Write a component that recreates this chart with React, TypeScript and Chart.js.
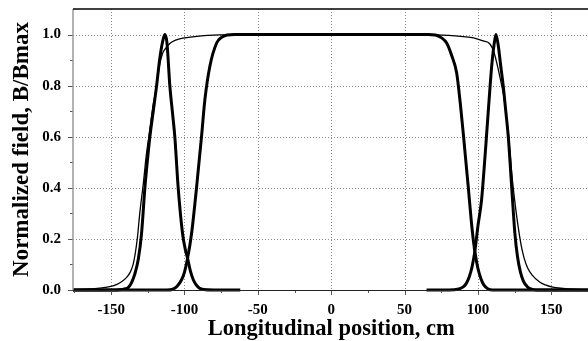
import React, { useEffect, useRef } from "react";
import { Chart, registerables } from "chart.js";

Chart.register(...registerables);

// ---- data ----
const xTicks = [-150, -100, -50, 0, 50, 100, 150];
const xMinorTicks = [-175, -125, -75, -25, 25, 75, 125, 175];
const yTicks = [0, 0.2, 0.4, 0.6, 0.8, 1.0];
const yMinorTicks = [0.1, 0.3, 0.5, 0.7, 0.9];

// thin curve (wide flat-top field)
const xThin = [-176, -165, -158, -151, -146, -142, -139, -137, -135, -133.5, -132, -130.5, -128, -126, -124.3, -121.5, -119, -117, -115, -113, -110, -106, -101, -96, -90, -84, -76, -65, 0, 65, 80, 90, 97, 103.5, 108.2, 111, 113.9, 115.5, 117.3, 119, 121, 123.2, 125.5, 127.5, 129.5, 131.5, 134, 137, 142.3, 146, 151, 158, 165, 176];
const yThin = [0.002, 0.004, 0.007, 0.013, 0.022, 0.036, 0.052, 0.07, 0.1, 0.145, 0.21, 0.3, 0.42, 0.53, 0.6, 0.72, 0.8, 0.88, 0.925, 0.945, 0.965, 0.978, 0.986, 0.99, 0.994, 0.997, 0.999, 1.0, 1.0, 1.0, 0.997, 0.992, 0.987, 0.975, 0.963, 0.93, 0.863, 0.82, 0.77, 0.7, 0.6, 0.45, 0.33, 0.245, 0.175, 0.125, 0.085, 0.058, 0.03, 0.02, 0.011, 0.006, 0.003, 0.001];

// thick central flat-top curve
const xCenter = [-176, -112, -108, -105, -102, -100, -97.9, -95.2, -91.8, -88.4, -86.1, -82.7, -78.1, -75, -71, -66, 0, 66, 71, 75, 78.7, 82, 85.5, 88, 90, 93.4, 95.5, 97, 98.5, 100, 102, 104, 107, 110, 176];
const yCenter = [0, 0, 0.003, 0.015, 0.04, 0.07, 0.124, 0.22, 0.4, 0.6, 0.745, 0.876, 0.967, 0.988, 0.998, 1.0, 1.0, 1.0, 0.998, 0.988, 0.967, 0.92, 0.85, 0.73, 0.614, 0.405, 0.27, 0.19, 0.13, 0.085, 0.045, 0.02, 0.004, 0, 0];

// thick narrow peaks (left and right ends)
const xPeakLeft = [-176, -150, -143, -140, -138, -136, -134, -131.5, -129.3, -127, -125.4, -123.6, -121.3, -119, -117, -115, -113.4, -112, -110, -108.3, -106.6, -104.3, -101.3, -99.5, -97.9, -96, -94, -92, -90, -87, -80, -62];
const yPeakLeft = [0, 0, 0.002, 0.005, 0.012, 0.03, 0.06, 0.12, 0.22, 0.4, 0.5, 0.6, 0.7, 0.8, 0.9, 0.97, 1.0, 0.97, 0.8, 0.7, 0.6, 0.4, 0.22, 0.16, 0.124, 0.075, 0.04, 0.02, 0.008, 0.002, 0, 0];
const xPeakRight = [65, 80, 87, 90, 92, 94, 96, 98, 100, 102.5, 104.3, 106, 107.7, 109.4, 111, 112.3, 113.8, 115.5, 117.3, 119, 120.7, 123, 125.2, 127, 129, 131, 133.5, 136, 140, 176];
const yPeakRight = [0, 0, 0.004, 0.012, 0.025, 0.05, 0.09, 0.155, 0.25, 0.353, 0.48, 0.614, 0.75, 0.876, 0.96, 1.0, 0.96, 0.88, 0.797, 0.7, 0.6, 0.405, 0.222, 0.13, 0.07, 0.035, 0.014, 0.004, 0, 0];

const X_MIN = -176;
const X_MAX = 176;
const Y_MIN = 0;
const Y_MAX = 1.1;

const FONT = "'Liberation Serif', 'Times New Roman', serif";

const toPts = (xs: number[], ys: number[]) => xs.map((x, i) => ({ x, y: ys[i] }));

const axesPlugin = {
  id: "customAxes",
  beforeDatasetsDraw(chart: any) {
    const { ctx, chartArea, scales } = chart;
    const { left, right, top, bottom } = chartArea;
    const xs = scales.x;
    const ys = scales.y;
    ctx.save();
    ctx.strokeStyle = "#8a8a8a";
    ctx.lineWidth = 1;
    ctx.setLineDash([1, 2]);
    for (const v of xTicks) {
      const px = Math.round(xs.getPixelForValue(v)) + 0.5;
      ctx.beginPath();
      ctx.moveTo(px, top);
      ctx.lineTo(px, bottom);
      ctx.stroke();
    }
    for (const v of yTicks) {
      if (v === 0) continue;
      const py = Math.round(ys.getPixelForValue(v)) + 0.5;
      ctx.beginPath();
      ctx.moveTo(left, py);
      ctx.lineTo(right, py);
      ctx.stroke();
    }
    ctx.restore();
  },
  afterDatasetsDraw(chart: any) {
    const { ctx, chartArea, scales } = chart;
    const { left, right, top, bottom } = chartArea;
    const xs = scales.x;
    const ys = scales.y;
    ctx.save();
    ctx.setLineDash([]);
    ctx.strokeStyle = "#555";
    ctx.lineWidth = 1;
    for (const v of xTicks) {
      const px = Math.round(xs.getPixelForValue(v)) + 0.5;
      ctx.beginPath();
      ctx.moveTo(px, bottom);
      ctx.lineTo(px, bottom + 5);
      ctx.stroke();
    }
    for (const v of xMinorTicks) {
      const px = Math.round(xs.getPixelForValue(v)) + 0.5;
      ctx.beginPath();
      ctx.moveTo(px, bottom);
      ctx.lineTo(px, bottom + 3);
      ctx.stroke();
    }
    for (const v of yTicks) {
      const py = Math.round(ys.getPixelForValue(v)) + 0.5;
      ctx.beginPath();
      ctx.moveTo(left - 5, py);
      ctx.lineTo(left, py);
      ctx.stroke();
    }
    for (const v of yMinorTicks) {
      const py = Math.round(ys.getPixelForValue(v)) + 0.5;
      ctx.beginPath();
      ctx.moveTo(left - 3, py);
      ctx.lineTo(left, py);
      ctx.stroke();
    }
    ctx.strokeStyle = "#999";
    ctx.lineWidth = 1.5;
    ctx.beginPath();
    ctx.moveTo(left, top);
    ctx.lineTo(left, bottom);
    ctx.stroke();
    ctx.strokeStyle = "#000";
    ctx.lineWidth = 1.5;
    ctx.beginPath();
    ctx.moveTo(left, top);
    ctx.lineTo(right, top);
    ctx.stroke();
    ctx.lineWidth = 1;
    ctx.strokeStyle = "#222";
    ctx.beginPath();
    ctx.moveTo(left, Math.round(bottom) + 0.5);
    ctx.lineTo(right, Math.round(bottom) + 0.5);
    ctx.stroke();
    ctx.restore();
  },
};

export default function App() {
  const ref = useRef<HTMLCanvasElement | null>(null);

  useEffect(() => {
    document.body.style.margin = "0";
    const canvas = ref.current;
    if (!canvas) return;
    const chart = new Chart(canvas, {
      type: "line",
      data: {
        datasets: [
          {
            label: "thin",
            data: toPts(xThin, yThin),
            borderColor: "#000",
            borderWidth: 1.3,
            pointRadius: 0,
            cubicInterpolationMode: "monotone",
            clip: 4,
          },
          {
            label: "center",
            data: toPts(xCenter, yCenter),
            borderColor: "#000",
            borderWidth: 3,
            pointRadius: 0,
            cubicInterpolationMode: "monotone",
            clip: 4,
          },
          {
            label: "peaks",
            data: [...toPts(xPeakLeft, yPeakLeft), { x: 0, y: null }, ...toPts(xPeakRight, yPeakRight)],
            borderColor: "#000",
            borderWidth: 3,
            pointRadius: 0,
            cubicInterpolationMode: "monotone",
            spanGaps: false,
            clip: 4,
          },
        ],
      } as any,
      options: {
        animation: false,
        responsive: false,
        maintainAspectRatio: false,
        layout: { padding: { left: 0, top: 9, right: 10.6, bottom: 0 } },
        plugins: { legend: { display: false }, tooltip: { enabled: false } },
        scales: {
          x: {
            type: "linear",
            min: X_MIN,
            max: X_MAX,
            grid: { display: false },
            border: { display: false },
            afterBuildTicks: (s: any) => {
              s.ticks = xTicks.map((v) => ({ value: v }));
            },
            afterFit: (s: any) => {
              s.height = 51;
              s.paddingLeft = 0;
              s.paddingRight = 0;
            },
            ticks: {
              color: "#000",
              padding: 3,
              maxRotation: 0,
              font: { family: FONT, size: 15, weight: "bold" },
              callback: (v: any) => String(v),
            },
            title: {
              display: true,
              text: "Longitudinal position, cm",
              color: "#000",
              font: { family: FONT, size: 22.5, weight: "bold", lineHeight: 1 },
              padding: { top: 0, bottom: 1 },
            },
          },
          y: {
            type: "linear",
            min: Y_MIN,
            max: Y_MAX,
            grid: { display: false },
            border: { display: false },
            afterBuildTicks: (s: any) => {
              s.ticks = yTicks.map((v) => ({ value: v }));
            },
            afterFit: (s: any) => {
              s.width = 73;
              s.paddingTop = 0;
              s.paddingBottom = 0;
            },
            ticks: {
              color: "#000",
              padding: 4,
              font: { family: FONT, size: 15, weight: "bold" },
              callback: (v: any) => Number(v).toFixed(1),
            },
            title: {
              display: true,
              text: "Normalized field, B/Bmax",
              color: "#000",
              font: { family: FONT, size: 23, weight: "bold", lineHeight: 1 },
              padding: { top: 11, bottom: 0 },
            },
          },
        },
      } as any,
      plugins: [axesPlugin],
    });
    return () => chart.destroy();
  }, []);

  return (
    <div style={{ width: 588, height: 341, overflow: "hidden", position: "relative" }}>
      <canvas ref={ref} width={600} height={341} style={{ width: 600, height: 341, display: "block" }} />
    </div>
  );
}
